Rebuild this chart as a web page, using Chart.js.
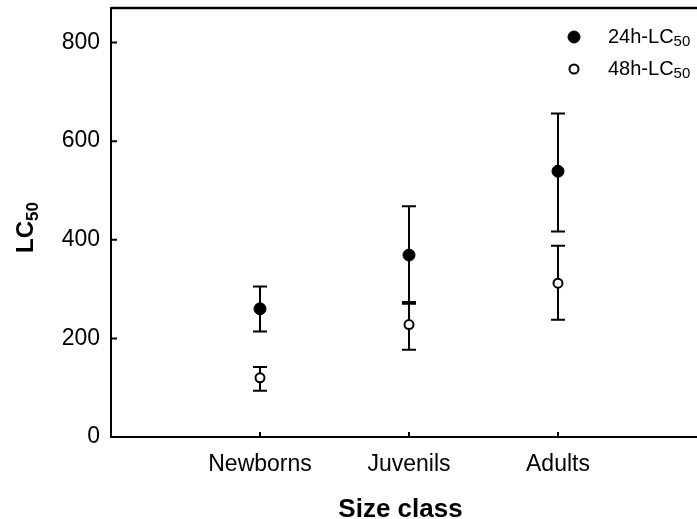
<!DOCTYPE html>
<html>
<head>
<meta charset="utf-8">
<script src="https://cdn.jsdelivr.net/npm/chart.js@4/dist/chart.umd.min.js"></script>
<style>
  body { margin: 0; background: #fff; }
  canvas { display: block; }
</style>
</head>
<body>
<canvas id="chart" width="697" height="519"></canvas>
<script>
const categories = ['Newborns', 'Juvenils', 'Adults'];
const yTicks = [0, 200, 400, 600, 800];

// 24h values with lower / upper limits
const lc24 = [260, 369, 539];
const lc24Low = [214, 274, 417];
const lc24High = [305, 468, 656];

// 48h values with lower / upper limits
const lc48 = [120, 228, 312];
const lc48Low = [94, 177, 238];
const lc48High = [142, 270, 388];

const FONT = "'Liberation Sans', Arial, Helvetica, sans-serif";

const toPoints = (vals, lows, highs) =>
    vals.map((v, i) => ({ x: i + 1, y: v, low: lows[i], high: highs[i] }));

// drop the label overflow padding so the plot can reach the edges
const noPad = axis => {
    axis.paddingTop = 0;
    axis.paddingBottom = 0;
    axis.paddingLeft = 0;
    axis.paddingRight = 0;
};

const errorBars = {
    id: 'errorBars',
    beforeDatasetsDraw(chart) {
        const { ctx, scales: { x, y } } = chart;
        ctx.save();
        ctx.strokeStyle = '#000';
        ctx.lineWidth = 2;
        chart.data.datasets.forEach(ds => {
            ds.data.forEach(p => {
                const px = x.getPixelForValue(p.x);
                const yl = y.getPixelForValue(p.low);
                const yh = y.getPixelForValue(p.high);
                ctx.beginPath();
                ctx.moveTo(px, yl); ctx.lineTo(px, yh);
                ctx.moveTo(px - 7, yl); ctx.lineTo(px + 7, yl);
                ctx.moveTo(px - 7, yh); ctx.lineTo(px + 7, yh);
                ctx.stroke();
            });
        });
        ctx.restore();
    }
};

const decorations = {
    id: 'decorations',
    afterDraw(chart) {
        const { ctx, chartArea: area, scales: { x, y } } = chart;
        ctx.save();
        ctx.strokeStyle = '#000';

        // top frame line
        ctx.lineWidth = 2.5;
        ctx.beginPath();
        ctx.moveTo(area.left, area.top);
        ctx.lineTo(chart.width, area.top);
        ctx.stroke();

        // the x axis runs on past the crop edge
        ctx.lineWidth = 2;
        ctx.beginPath();
        ctx.moveTo(area.right - 1, area.bottom);
        ctx.lineTo(chart.width, area.bottom);
        ctx.stroke();

        // inward tick marks
        ctx.beginPath();
        y.ticks.forEach(t => {
            const py = y.getPixelForValue(t.value);
            ctx.moveTo(area.left, py);
            ctx.lineTo(area.left + 6, py);
        });
        x.ticks.forEach(t => {
            const px = x.getPixelForValue(t.value);
            ctx.moveTo(px, area.bottom);
            ctx.lineTo(px, area.bottom - 5);
        });
        ctx.stroke();

        // legend
        const items = [
            { label: '24h-LC', fill: '#000', r: 6, bw: 1 },
            { label: '48h-LC', fill: '#fff', r: 4.5, bw: 2 }
        ];
        items.forEach((it, i) => {
            const ly = 37 + i * 32;
            ctx.beginPath();
            ctx.arc(574, ly, it.r, 0, Math.PI * 2);
            ctx.fillStyle = it.fill;
            ctx.fill();
            ctx.lineWidth = it.bw;
            ctx.stroke();
            ctx.fillStyle = '#000';
            ctx.textBaseline = 'middle';
            ctx.textAlign = 'left';
            ctx.font = '20px ' + FONT;
            ctx.fillText(it.label, 608, ly);
            const w = ctx.measureText(it.label).width;
            ctx.font = '15px ' + FONT;
            ctx.fillText('50', 608 + w, ly + 5);
        });

        // y axis title with subscript
        ctx.translate(33, 253);
        ctx.rotate(-Math.PI / 2);
        ctx.textBaseline = 'alphabetic';
        ctx.font = 'bold 24px ' + FONT;
        ctx.fillText('LC', 0, 0);
        const lw = ctx.measureText('LC').width;
        ctx.font = 'bold 17px ' + FONT;
        ctx.fillText('50', lw, 5);

        ctx.restore();
    }
};

new Chart(document.getElementById('chart'), {
    type: 'scatter',
    data: {
        datasets: [
            {
                label: '24h-LC50',
                data: toPoints(lc24, lc24Low, lc24High),
                backgroundColor: '#000',
                borderColor: '#000',
                borderWidth: 1,
                pointRadius: 6,
                pointHoverRadius: 6
            },
            {
                label: '48h-LC50',
                data: toPoints(lc48, lc48Low, lc48High),
                backgroundColor: '#fff',
                borderColor: '#000',
                borderWidth: 2,
                pointRadius: 4.5,
                pointHoverRadius: 4.5
            }
        ]
    },
    options: {
        responsive: false,
        animation: false,
        events: [],
        layout: { padding: { left: 0, right: 0, top: 8, bottom: 0 } },
        plugins: {
            legend: { display: false },
            tooltip: { enabled: false }
        },
        scales: {
            x: {
                type: 'linear',
                min: 0,
                max: 3.886,
                afterBuildTicks: axis => { axis.ticks = categories.map((c, i) => ({ value: i + 1 })); },
                afterFit: axis => { axis.height = 82; noPad(axis); },
                grid: { display: false, drawTicks: false },
                border: { display: true, color: '#000', width: 2 },
                ticks: {
                    padding: 14,
                    color: '#000',
                    font: { family: FONT, size: 23 },
                    callback: v => categories[v - 1]
                },
                title: {
                    display: true,
                    text: 'Size class',
                    color: '#000',
                    font: { family: FONT, size: 26, weight: 'bold', lineHeight: 1 },
                    padding: { top: 0, bottom: -4 }
                }
            },
            y: {
                min: 0,
                max: 870,
                afterBuildTicks: axis => { axis.ticks = yTicks.map(v => ({ value: v })); },
                afterFit: axis => { axis.width = 111; noPad(axis); },
                grid: { display: false, drawTicks: false },
                border: { display: true, color: '#000', width: 2 },
                ticks: {
                    padding: 11,
                    color: '#000',
                    font: { family: FONT, size: 23, lineHeight: 0.6 }
                }
            }
        }
    },
    plugins: [errorBars, decorations]
});
</script>
</body>
</html>
